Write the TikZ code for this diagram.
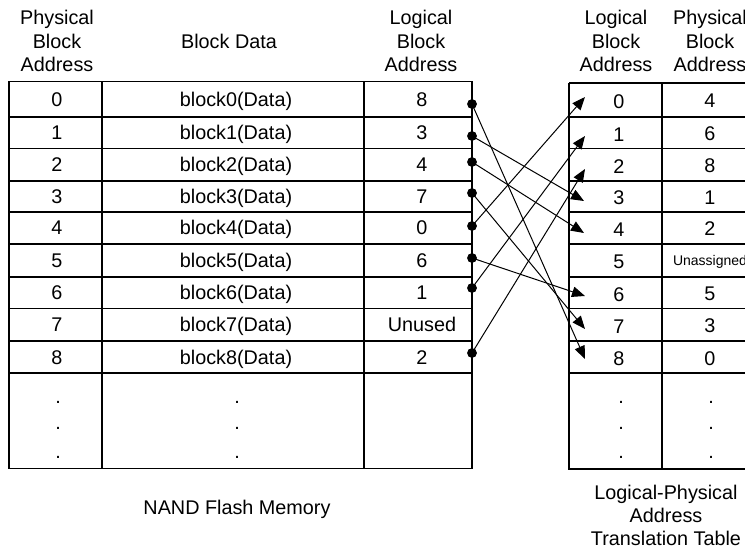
\documentclass[tikz,border=0pt]{standalone}
\usepackage{fontspec}
\setmainfont{Liberation Sans}
\usetikzlibrary{arrows.meta}
\begin{document}
\begin{tikzpicture}[x=1pt,y=-1pt,
  grid/.style={line width=1.9pt},
  txt/.style={anchor=base,inner sep=0pt,font=\fontsize{19.8}{23.5}\selectfont},
  small/.style={anchor=base,inner sep=0pt,font=\fontsize{14}{16}\selectfont},
  link/.style={line width=1pt,-{Triangle[length=13pt,width=10.5pt]}},
  dotmark/.style={circle,fill=black,inner sep=0pt,minimum size=9.5pt}
]
\path[use as bounding box,clip] (0,0) rectangle (745,548);

% ---------- left table: NAND flash memory ----------
\draw[grid] (9,81.5) rectangle (472,468.5);
\draw[grid] (102,81.5) -- (102,468.5);
\draw[grid] (364,81.5) -- (364,468.5);
\foreach \y in {117,148.5,181,212,244,277,308.5,341,373}
  \draw[grid] (9,\y) -- (472,\y);

% headers
\node[txt] (hpa1) at (57,25) {Physical};
\node[txt] (hpa2) at (57,48.5) {Block};
\node[txt] (hpa3) at (57,72) {Address};
\node[txt] (hbd) at (229,48.5) {Block Data};
\node[txt] (hla1) at (421,25) {Logical};
\node[txt] (hla2) at (421,48.5) {Block};
\node[txt] (hla3) at (421,72) {Address};

% rows
\foreach \i/\yc/\l in {0/99.25/8,1/132.75/3,2/164.75/4,3/196.5/7,4/228/0,5/260.5/6,6/292.75/1,7/324.75/Unused,8/357/2}{
  \node[txt] (lp\i) at (57,\yc+7) {\i};
  \node[txt] (ld\i) at (236,\yc+7) {block\i(Data)};
  \node[txt] (ll\i) at (422,\yc+7) {\l};
}
\foreach \k/\yy in {1/403,2/429,3/458}{
  \node[txt] (ldotA\k) at (58,\yy) {.};
  \node[txt] (ldotB\k) at (237,\yy) {.};
}
\node[txt] (capL) at (237,514) {NAND Flash Memory};

% ---------- right table: translation table ----------
\draw[grid] (569,83) -- (569,469) -- (760,469);
\draw[grid] (569,83) -- (760,83);
\draw[grid] (662,83) -- (662,469);
\foreach \y in {117,148.5,181,212,244,277,308.5,341,373}
  \draw[grid] (569,\y) -- (760,\y);

\node[txt] (hrl1) at (616,25) {Logical};
\node[txt] (hrl2) at (616,48.5) {Block};
\node[txt] (hrl3) at (616,72) {Address};
\node[txt] (hrp1) at (710,25) {Physical};
\node[txt] (hrp2) at (710,48.5) {Block};
\node[txt] (hrp3) at (710,72) {Address};

\foreach \i/\yc/\p in {0/100/4,1/132.75/6,2/164.75/8,3/196.5/1,4/228/2,6/292.75/5,7/324.75/3,8/357/0}{
  \node[txt] (rl\i) at (619,\yc+8.5) {\i};
  \node[txt] (rp\i) at (710,\yc+8) {\p};
}
\node[txt] (rl5) at (619,260.5+8.5) {5};
\node[small] (rp5) at (710,260.5+5) {Unassigned};
\foreach \k/\yy in {1/403,2/429,3/458}{
  \node[txt] (rdotA\k) at (621,\yy) {.};
  \node[txt] (rdotB\k) at (711,\yy) {.};
}
\node[txt] (capR1) at (666,499) {Logical-Physical};
\node[txt] (capR2) at (666,522) {Address};
\node[txt] (capR3) at (666,545) {Translation Table};

% ---------- connectors ----------
\coordinate (t0) at (585,97);
\coordinate (t1) at (585,136);
\coordinate (t2) at (585,169);
\coordinate (t3) at (584,201);
\coordinate (t4) at (584,233);
\coordinate (t6) at (585,296);
\coordinate (t7) at (585,329);
\coordinate (t8) at (585,359);

\foreach \i/\yy in {0/104,1/136,2/162,3/193,4/226,5/258,6/288,8/353}
  \node[dotmark] (d\i) at (472,\yy) {};

\draw[link] (d0.center) -- (t8);
\draw[link] (d1.center) -- (t3);
\draw[link] (d2.center) -- (t4);
\draw[link] (d3.center) -- (t7);
\draw[link] (d4.center) -- (t0);
\draw[link] (d5.center) -- (t6);
\draw[link] (d6.center) -- (t1);
\draw[link] (d8.center) -- (t2);
\foreach \i in {0,1,2,3,4,5,6,8}
  \node[dotmark] at (d\i) {};
\end{tikzpicture}
\end{document}
